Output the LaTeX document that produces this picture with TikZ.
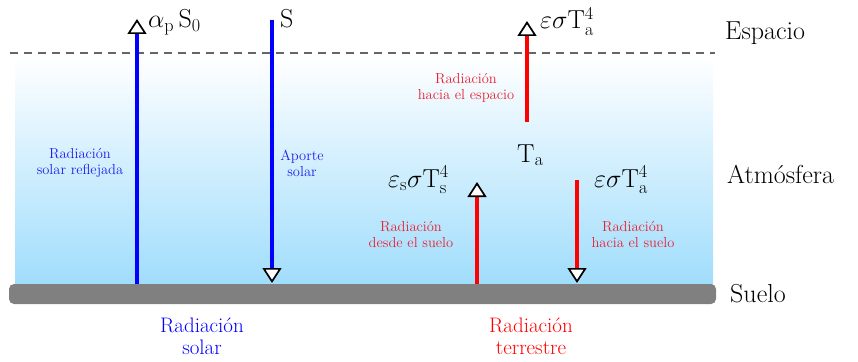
\documentclass[tikz,border=0pt]{standalone}
\usepackage{fix-cm}
\usepackage{tikz}
\usetikzlibrary{arrows.meta}
\definecolor{skyfade}{RGB}{160,221,252}
\definecolor{soilgray}{RGB}{128,128,128}
\definecolor{solarblue}{RGB}{0,0,255}
\definecolor{heatred}{RGB}{255,0,0}
\definecolor{notered}{RGB}{232,32,48}
\definecolor{noteblue}{RGB}{30,30,240}
\newcommand{\bigsz}{\fontsize{26}{30}\selectfont}
\newcommand{\notesz}{\fontsize{14.5}{16}\selectfont}
\newcommand{\captsz}{\fontsize{21}{22}\selectfont}

\begin{document}
\begin{tikzpicture}[x=1pt,y=-1pt,
  flux/.style={line width=4pt,-{Triangle[width=19pt,length=15pt,fill=white,color=black,line width=1.7pt]}},
  note/.style={font=\notesz,align=center},
  capt/.style={font=\captsz,align=center},
  zone/.style={font=\bigsz,anchor=base west,inner sep=0pt},
  sym/.style={font=\bigsz,anchor=base west,inner sep=0pt}]
  \useasboundingbox (0,0) rectangle (858,361);
  % air, ground and the top of the atmosphere
  \shade[top color=white,bottom color=skyfade] (15,55) rectangle (713,285);
  \fill[soilgray,rounded corners=5pt] (9,284) rectangle (716,304);
  \draw[black!60,line width=1.5pt,dash pattern=on 8pt off 6pt] (10,53) -- (715,53);

  % arrow ends
  \coordinate (refl-base) at (137,284);
  \coordinate (refl-top) at (137,19);
  \coordinate (sun-top) at (272,20);
  \coordinate (sun-base) at (272,283);
  \coordinate (out-base) at (527,122);
  \coordinate (out-top) at (527,21);
  \coordinate (up-base) at (477,284);
  \coordinate (up-top) at (477,182);
  \coordinate (down-top) at (577,180);
  \coordinate (down-base) at (577,283);

  \draw[flux,solarblue] (refl-base) -- (refl-top);
  \draw[flux,solarblue] (sun-top) -- (sun-base);
  \draw[flux,heatred] (out-base) -- (out-top);
  \draw[flux,heatred] (up-base) -- (up-top);
  \draw[flux,heatred] (down-top) -- (down-base);

  % fluxes
  \node[sym] (albedo) at (148,28) {$\alpha_{\mathrm{p}}\,\mathrm{S}_0$};
  \node[sym] (sunin) at (280,28) {$\mathrm{S}$};
  \node[sym] (spaceout) at (540,29) {$\varepsilon\sigma\mathrm{T}_{\mathrm{a}}^4$};
  \node[sym] (airtemp) at (517,162) {$\mathrm{T}_{\mathrm{a}}$};
  \node[sym] (soilout) at (388,187) {$\varepsilon_{\mathrm{s}}\sigma\mathrm{T}_{\mathrm{s}}^4$};
  \node[sym] (backrad) at (594,187) {$\varepsilon\sigma\mathrm{T}_{\mathrm{a}}^4$};

  \node[note,noteblue] (reflnote) at (80,163) {Radiación\\solar reflejada};
  \node[note,noteblue] (sunnote) at (302,163) {Aporte\\solar};
  \node[note,notered] (outnote) at (466,88) {Radiación\\hacia el espacio};
  \node[note,notered] (upnote) at (411,235) {Radiación\\desde el suelo};
  \node[note,notered] (downnote) at (633,235) {Radiación\\hacia el suelo};

  \node[capt,solarblue] (solarcapt) at (202,336) {Radiación\\solar};
  \node[capt,heatred] (terrcapt) at (531,336) {Radiación\\terrestre};

  \node[zone] (space) at (725,40) {Espacio};
  \node[zone] (atmos) at (727,183) {Atmósfera};
  \node[zone] (soil) at (730,302) {Suelo};
\end{tikzpicture}
\end{document}
